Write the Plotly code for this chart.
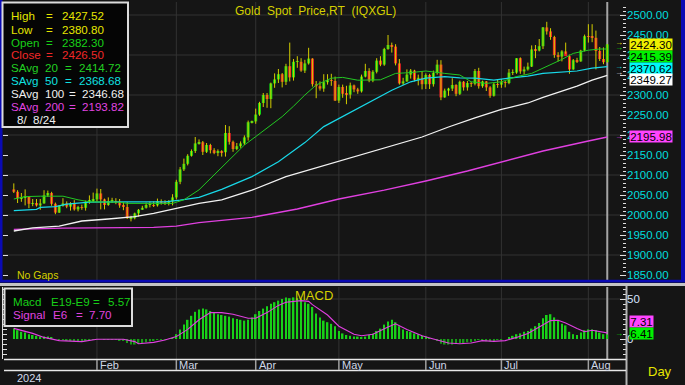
import plotly.graph_objects as go
import pandas as pd

W, H = 685, 385
def PX(x):
    return x / W
def PY(y):
    return 1 - y / H

FONT = "Arial, Liberation Sans, sans-serif"

# ---------------- data ----------------
dates = pd.bdate_range("2024-01-02", "2024-08-08")

opens = [2064, 2058, 2042, 2044, 2046, 2028, 2030, 2024, 2029, 2049,
         2055, 2028, 2006, 2023, 2029, 2021, 2029, 2014, 2020, 2018,
         2033, 2037, 2039, 2054, 2039, 2025, 2035, 2035, 2034, 2024,
         2020, 1992, 1992, 2004, 2013, 2018, 2025, 2025, 2024, 2035,
         2031, 2029, 2034, 2044, 2083, 2114, 2128, 2148, 2160, 2179,
         2182, 2158, 2175, 2162, 2155, 2160, 2157, 2205, 2183, 2165,
         2172, 2179, 2194, 2232, 2234, 2251, 2280, 2300, 2290, 2329,
         2339, 2352, 2333, 2372, 2344, 2383, 2383, 2361, 2379, 2391,
         2327, 2322, 2316, 2332, 2337, 2335, 2286, 2320, 2303, 2301,
         2324, 2314, 2309, 2346, 2360, 2336, 2358, 2386, 2376, 2415,
         2425, 2421, 2379, 2329, 2334, 2351, 2361, 2338, 2343, 2327,
         2350, 2327, 2355, 2376, 2294, 2311, 2316, 2325, 2303, 2333,
         2319, 2330, 2328, 2360, 2322, 2334, 2319, 2298, 2327, 2326,
         2332, 2330, 2356, 2356, 2392, 2359, 2364, 2371, 2414, 2411,
         2422, 2469, 2459, 2445, 2400, 2396, 2409, 2397, 2364, 2387,
         2384, 2411, 2447, 2446, 2443, 2410, 2390, 2382.30]
highs = [2079, 2062, 2055, 2064, 2047, 2040, 2040, 2040, 2062, 2061,
         2058, 2031, 2025, 2042, 2034, 2032, 2037, 2023, 2026, 2036,
         2049, 2056, 2066, 2065, 2041, 2044, 2043, 2042, 2040, 2032,
         2032, 1998, 2006, 2015, 2023, 2031, 2034, 2034, 2041, 2039,
         2037, 2037, 2052, 2088, 2120, 2141, 2152, 2164, 2195, 2189,
         2185, 2180, 2178, 2167, 2164, 2162, 2225, 2222, 2186, 2180,
         2184, 2199, 2236, 2236, 2266, 2283, 2305, 2305, 2331, 2354,
         2365, 2355, 2378, 2431, 2390, 2397, 2392, 2388, 2418, 2392,
         2335, 2334, 2352, 2352, 2353, 2346, 2326, 2326, 2323, 2331,
         2326, 2318, 2351, 2378, 2367, 2362, 2392, 2397, 2418, 2450,
         2431, 2427, 2390, 2343, 2364, 2365, 2363, 2351, 2360, 2354,
         2353, 2361, 2388, 2387, 2316, 2318, 2342, 2327, 2336, 2335,
         2335, 2333, 2365, 2368, 2336, 2335, 2322, 2330, 2340, 2340,
         2335, 2365, 2364, 2392, 2394, 2371, 2381, 2424, 2425, 2440,
         2470, 2483, 2467, 2448, 2407, 2412, 2431, 2401, 2390, 2393,
         2413, 2451, 2477, 2477, 2461, 2420, 2419, 2427.52]
lows = [2055, 2030, 2033, 2024, 2017, 2022, 2021, 2013, 2028, 2045,
        2023, 2002, 2005, 2021, 2017, 2011, 2011, 2009, 2013, 2011,
        2028, 2032, 2033, 2014, 2014, 2023, 2030, 2027, 2018, 2012,
        1990, 1984, 1989, 1996, 2013, 2016, 2019, 2020, 2021, 2026,
        2025, 2024, 2024, 2039, 2077, 2110, 2124, 2146, 2155, 2176,
        2150, 2155, 2154, 2152, 2147, 2146, 2146, 2176, 2158, 2162,
        2168, 2175, 2186, 2229, 2228, 2248, 2270, 2268, 2267, 2318,
        2330, 2319, 2325, 2334, 2336, 2368, 2358, 2355, 2376, 2321,
        2292, 2311, 2308, 2326, 2323, 2285, 2280, 2293, 2277, 2291,
        2307, 2303, 2306, 2344, 2332, 2332, 2354, 2372, 2373, 2413,
        2406, 2374, 2326, 2325, 2333, 2341, 2334, 2324, 2314, 2315,
        2315, 2321, 2351, 2287, 2293, 2298, 2310, 2297, 2300, 2311,
        2311, 2320, 2324, 2316, 2318, 2310, 2293, 2296, 2318, 2318,
        2319, 2327, 2350, 2353, 2353, 2351, 2361, 2370, 2392, 2409,
        2415, 2451, 2438, 2393, 2384, 2384, 2403, 2353, 2363, 2380,
        2383, 2409, 2431, 2432, 2364, 2385, 2377, 2380.80]
closes = [2058, 2042, 2044, 2046, 2028, 2030, 2024, 2029, 2049, 2055,
          2028, 2006, 2023, 2029, 2021, 2029, 2014, 2020, 2018, 2033,
          2037, 2039, 2054, 2039, 2025, 2035, 2035, 2034, 2024, 2020,
          1992, 1992, 2004, 2013, 2018, 2025, 2025, 2024, 2035, 2031,
          2029, 2034, 2044, 2083, 2114, 2128, 2148, 2160, 2179, 2182,
          2158, 2175, 2162, 2155, 2160, 2157, 2205, 2183, 2165, 2172,
          2179, 2194, 2232, 2234, 2251, 2280, 2300, 2290, 2329, 2339,
          2352, 2333, 2372, 2344, 2383, 2383, 2361, 2379, 2391, 2327,
          2322, 2316, 2332, 2337, 2335, 2286, 2320, 2303, 2301, 2324,
          2314, 2309, 2346, 2360, 2336, 2358, 2386, 2376, 2415, 2425,
          2421, 2379, 2329, 2334, 2351, 2361, 2338, 2343, 2327, 2350,
          2327, 2355, 2376, 2294, 2311, 2316, 2325, 2303, 2333, 2319,
          2330, 2328, 2360, 2322, 2334, 2319, 2298, 2327, 2326, 2332,
          2330, 2356, 2356, 2392, 2359, 2364, 2371, 2414, 2411, 2422,
          2469, 2459, 2445, 2400, 2396, 2409, 2397, 2364, 2387, 2384,
          2411, 2447, 2446, 2443, 2410, 2390, 2382, 2426.50]

# moving averages (bar index, value)
ma20_x = [0, 3, 7, 13, 17, 20, 28, 30, 42, 45, 49, 51, 54, 57, 61, 64, 68, 71, 74, 77,
          80, 84, 87, 91, 97, 101, 105, 109, 114, 118, 121, 125, 129, 133, 137, 141,
          145, 148, 152, 155, 157]
ma20_y = [2040, 2046, 2047, 2047, 2038, 2033, 2032, 2029, 2029, 2038, 2063, 2082, 2110,
          2137, 2175, 2196, 2225, 2246, 2272, 2300, 2325, 2342, 2344, 2337, 2338, 2354,
          2356, 2360, 2354, 2350, 2333, 2329, 2333, 2346, 2354, 2371, 2389, 2404, 2412,
          2415, 2415]
ma50_x = [0, 6, 7, 11, 14, 20, 30, 40, 44, 49, 55, 63, 70, 77, 82, 87, 92, 96, 100, 105,
          109, 114, 118, 122, 127, 131, 136, 140, 145, 149, 153, 157]
ma50_y = [2011, 2014, 2019, 2021, 2027, 2032, 2033, 2033, 2037, 2044, 2064, 2096, 2133,
          2181, 2221, 2246, 2271, 2290, 2312, 2333, 2342, 2346, 2343, 2342, 2337, 2342,
          2347, 2354, 2358, 2360, 2367, 2371]
ma100_x = [0, 5, 12, 18, 25, 32, 37, 43, 49, 55, 63, 72, 81, 90, 94, 100, 108, 115, 122,
           129, 136, 140, 145, 149, 153, 157]
ma100_y = [1960, 1968, 1972, 1985, 1990, 1996, 2004, 2017, 2029, 2038, 2062, 2096, 2121,
           2146, 2156, 2172, 2195, 2220, 2243, 2264, 2280, 2294, 2310, 2322, 2337, 2349]
ma200_x = [0, 13, 37, 43, 49, 56, 63, 75, 86, 98, 109, 120, 129, 140, 152, 157]
ma200_y = [1964, 1967, 1969, 1972, 1981, 1987, 1994, 2015, 2040, 2062, 2085, 2110, 2133,
           2160, 2185, 2195]

macd = [13, 11, 9, 8, 6, 5, 4, 3, 3, 3, 2,
        0, -1, -1, -2, -2, -3, -3, -3, -2, -1,
        -1, 0, 0, -1, -1, -1, -1, -2, -2,
        -5, -7, -7, -6, -5, -4,
        -3, -2, -1, -1, -1, 0, 1,
        6, 12, 18, 24, 29, 34, 37,
        38, 37, 35, 33, 31, 30, 29,
        28, 26, 25, 24, 23, 24, 27,
        31, 35, 38, 41,
        44, 46, 48, 50,
        52, 51, 52, 51, 50,
        46, 44,
        40, 32, 27, 23, 21, 19, 16,
        10, 7,
        5, 4, 3, 3, 2,
        3, 5, 7, 10, 13,
        18, 22, 24, 21,
        16, 12, 10,
        9, 7, 6, 4, 3, 1,
        0, -2, -6, -7, -7,
        -7, -6, -5, -6, -4, -4,
        -2, -1, -2, -3, -3, -2, -1, -1, 0,
        2, 4, 6, 7, 9, 10,
        13, 16, 20,
        26, 30, 31,
        27, 23, 19, 17,
        9, 6, 5,
        8, 11, 12, 12, 11,
        8, 6, 5.57]
signal_x = [0, 2, 5, 8, 10, 12, 18, 22, 29, 32, 33, 37, 40, 43, 46, 49, 52, 55, 58, 62,
            64, 67, 70, 72, 76, 78, 79, 83, 86, 90, 92, 95, 99, 101, 104, 108, 111, 115,
            118, 121, 124, 127, 130, 133, 136, 139, 142, 144, 146, 149, 151, 153, 156, 157]
signal_y = [13.3, 11, 7, 2, 0, -2, -3.3, -0.4, -0.4, -3.3, -6, -4.2, -1.2, 3, 12, 24, 33,
            33, 31, 26, 26, 33, 42, 46, 48, 47, 43, 30, 16, 6, 4, 6, 15, 19, 12, 4, 0, -5,
            -6, -5, -2, -3, -2, 2, 7, 15, 23, 23.5, 20, 13, 9, 11, 9, 7.7]

legend_labels = ["High", "Low", "Open", "Close", "SAvg\u00a0\u00a020", "SAvg\u00a0\u00a050",
                 "SAvg\u00a0\u00a0100", "SAvg\u00a0\u00a0200"]
legend_values = ["2427.52", "2380.80", "2382.30", "2426.50", "2414.72", "2368.68",
                 "2346.68", "2193.82"]
legend_date = "8/\u00a0\u00a08/24"
macd_parts = [["Macd", "E19-E9", "=", "5.57"], ["Signal", "E6", "=", "7.70"]]
price_tags = ["2424.30", "2415.39", "2370.62", "2349.27", "2195.98"]
price_tag_vals = [2427.5, 2396.5, 2367.5, 2338.5, 2195.98]
macd_tags = ["7.31", "6.41"]
macd_tag_vals = [21.3, 7.2]
title_text = "Gold\u00a0\u00a0Spot\u00a0\u00a0Price,RT\u00a0\u00a0(IQXGL)"
year_label = "2024"

# ---------------- derived ----------------
n = len(dates)
idx = list(range(n))
month_idx = [i for i in range(1, n) if dates[i].month != dates[i - 1].month]
month_names = [dates[i].strftime("%b") for i in month_idx]

XR = [(3 - 13.8) / 3.78, (3 - 13.8) / 3.78 + 623 / 3.78]
YR = [1837.5, 2532.5]
Y2R = [-25, 65]

GREEN = "#14d814"
RED = "#f02424"
WICK = "#d2cc00"

fig = go.Figure()

wx, wy = [], []
for i in idx:
    wx += [i, i, None]
    wy += [lows[i], highs[i], None]
fig.add_trace(go.Scatter(x=wx, y=wy, mode="lines", line=dict(color=WICK, width=1),
                         hoverinfo="skip"))

up = [i for i in idx if closes[i] >= opens[i]]
dn = [i for i in idx if closes[i] < opens[i]]
fig.add_trace(go.Bar(x=up, base=[opens[i] for i in up],
                     y=[max(closes[i] - opens[i], 0.8) for i in up],
                     width=0.78, marker=dict(color=GREEN, line=dict(width=0))))
fig.add_trace(go.Bar(x=dn, base=[closes[i] for i in dn],
                     y=[opens[i] - closes[i] for i in dn],
                     width=0.78, marker=dict(color=RED, line=dict(width=0))))

fig.add_trace(go.Scatter(x=ma200_x, y=ma200_y, mode="lines", line=dict(color="#e040e0", width=1.3)))
fig.add_trace(go.Scatter(x=ma100_x, y=ma100_y, mode="lines", line=dict(color="#f2f2f2", width=1.3)))
fig.add_trace(go.Scatter(x=ma50_x, y=ma50_y, mode="lines", line=dict(color="#18d8e8", width=1.2)))
fig.add_trace(go.Scatter(x=ma20_x, y=ma20_y, mode="lines", line=dict(color="#22c822", width=1)))

# MACD panel
fig.add_trace(go.Bar(x=idx, y=macd, xaxis="x2", yaxis="y2", width=0.42,
                     marker=dict(color=["#18d018" if v >= 0 else "#169a16" for v in macd],
                                 line=dict(width=0))))
fig.add_trace(go.Scatter(x=signal_x, y=signal_y, xaxis="x2", yaxis="y2", mode="lines",
                         line=dict(color="#e040e0", width=1.1)))

# helper traces so overlay axes render
fig.add_trace(go.Scatter(x=[0], y=[2000], xaxis="x", yaxis="y3", mode="markers",
                         marker=dict(opacity=0), hoverinfo="skip"))
fig.add_trace(go.Scatter(x=[0], y=[0], xaxis="x2", yaxis="y4", mode="markers",
                         marker=dict(opacity=0), hoverinfo="skip"))

shapes = []
# gridlines
for v in range(1900, 2501, 100):
    shapes.append(dict(type="line", xref="x domain", x0=0, x1=1, yref="y", y0=v, y1=v,
                       line=dict(color="#323232", width=1), layer="below"))
shapes.append(dict(type="line", xref="x2 domain", x0=0, x1=1, yref="y2", y0=50, y1=50,
                   line=dict(color="#323232", width=1), layer="below"))
for m in month_idx:
    for yr in ["y domain", "y2 domain"]:
        shapes.append(dict(type="line", xref="x", x0=m, x1=m, yref=yr, y0=0, y1=1,
                           line=dict(color="#323232", width=1), layer="below"))
# cursor line at last bar
for yr in ["y domain", "y2 domain"]:
    shapes.append(dict(type="line", xref="x", x0=n - 1, x1=n - 1, yref=yr, y0=0, y1=1,
                       line=dict(color="#a4a4a4", width=2), layer="below"))

# frame
BLUE = "#0a0ab4"
shapes.append(dict(type="rect", xref="paper", yref="paper", x0=PX(0), x1=PX(2.5),
                   y0=PY(282), y1=PY(0), fillcolor=BLUE, line=dict(width=0), layer="above"))
shapes.append(dict(type="rect", xref="paper", yref="paper", x0=PX(681), x1=PX(685),
                   y0=PY(282), y1=PY(0), fillcolor=BLUE, line=dict(width=0), layer="above"))
shapes.append(dict(type="rect", xref="paper", yref="paper", x0=0, x1=1,
                   y0=PY(282.5), y1=PY(279.8), fillcolor=BLUE, line=dict(width=0), layer="above"))
shapes.append(dict(type="rect", xref="paper", yref="paper", x0=0, x1=1,
                   y0=PY(286), y1=PY(283), fillcolor="#c4c4c4", line=dict(width=0), layer="above"))
# right axis line for lower area
shapes.append(dict(type="line", xref="paper", yref="paper", x0=PX(626.5), x1=PX(626.5),
                   y0=0, y1=PY(286), line=dict(color="#b4b4b4", width=2), layer="above"))
# date strip
for yy in [359.5, 370.5]:
    shapes.append(dict(type="line", xref="paper", yref="paper", x0=PX(4), x1=PX(626),
                       y0=PY(yy), y1=PY(yy), line=dict(color="#e8e8e8", width=1.5), layer="above"))
for m in month_idx:
    shapes.append(dict(type="line", xref="x", x0=m, x1=m, yref="paper", y0=PY(370), y1=PY(360),
                       line=dict(color="#a0a0a0", width=1.5), layer="above"))
# legend boxes
shapes.append(dict(type="rect", xref="paper", yref="paper", x0=PX(2.5), x1=PX(128),
                   y0=PY(127), y1=PY(2.5), fillcolor="#050505",
                   line=dict(color="#dcdcdc", width=2), layer="above"))
shapes.append(dict(type="rect", xref="paper", yref="paper", x0=PX(4.5), x1=PX(132),
                   y0=PY(326), y1=PY(288.5), fillcolor="#050505",
                   line=dict(color="#dcdcdc", width=2), layer="above"))

ann = []
def text(x, y, s, color, size=12, xanchor="left", **kw):
    d = dict(xref="paper", yref="paper", x=PX(x), y=PY(y), text=s, showarrow=False,
             xanchor=xanchor, yanchor="middle", font=dict(family=FONT, size=size, color=color))
    d.update(kw)
    ann.append(d)

leg_colors = ["#e6e600", "#e6e600", "#18d018", "#f02828", "#22d022", "#10e0e0",
              "#f0f0f0", "#e044e0"]
leg_y = [15.7, 29, 42.3, 54.3, 67.7, 80.3, 93.7, 106.7]
eq_x = [49.5, 49.5, 49.5, 50, 68, 68.5, 72, 72]
val_x = [60, 60, 60, 60, 76.5, 77, 80, 80]
for k in range(len(legend_labels)):
    text(9, leg_y[k], legend_labels[k], leg_colors[k], size=11.6)
    text(eq_x[k], leg_y[k], "=", leg_colors[k], size=11.6, xanchor="center")
    text(val_x[k], leg_y[k], legend_values[k], leg_colors[k], size=11.6)
text(15, 119.3, legend_date, "#f0f0f0", size=11.6)

macd_x = [[11, 49, 96.5, 106], [11, 50.5, 79, 87]]
macd_y = [301.7, 314]
macd_c = ["#18d018", "#e044e0"]
for r in range(2):
    for part, xx in zip(macd_parts[r], macd_x[r]):
        text(xx, macd_y[r], part, macd_c[r], size=11.6,
             xanchor="center" if part == "=" else "left")

text(315, 10.7, title_text, "#d4d000", xanchor="center")
text(314, 295, "MACD", "#d4d000", size=13, xanchor="center")
text(15, 275, "No Gaps", "#d4d000", size=10.5)
text(660, 371, "Day", "#e6e600", size=13, xanchor="center")
text(15, 377.5, year_label, "#d0d8e8", size=11)
for m, name in zip(month_idx, month_names):
    ann.append(dict(xref="x", yref="paper", x=m, y=PY(365), text=name, showarrow=False,
                    xanchor="left", yanchor="middle", xshift=1,
                    font=dict(family=FONT, size=11, color="#d0d8e8")))

tag_bg = ["#f0f000", "#00f000", "#00f8f8", "#ffffff", "#ff44ff"]
for s, v, bg in zip(price_tags, price_tag_vals, tag_bg):
    ann.append(dict(xref="paper", yref="y", x=PX(628.5), y=v, text=s, showarrow=False,
                    xanchor="left", yanchor="middle", bgcolor=bg, width=42, height=11,
                    borderpad=0, font=dict(family=FONT, size=11.5, color="#000000")))
for s, v, bg in zip(macd_tags, macd_tag_vals, ["#ff44ff", "#00f000"]):
    ann.append(dict(xref="paper", yref="y2", x=PX(629), y=v, text=s, showarrow=False,
                    xanchor="left", yanchor="middle", bgcolor=bg, width=23, height=11,
                    borderpad=0, font=dict(family=FONT, size=11.5, color="#000000")))
# pointer arrows
for yy, c in [(42.7, "#f0f000"), (47.3, "#00e000"), (66.5, "#10e0e0"), (73, "#f0f0f0"),
              (136, "#ff44ff"), (333.5, "#00e000")]:
    text(618.5, yy, "→", c, size=8, xanchor="center")

fig.update_layout(
    width=W, height=H, margin=dict(l=0, r=0, t=0, b=0),
    paper_bgcolor="#151515", plot_bgcolor="#151515",
    showlegend=False, barmode="overlay", hovermode=False,
    xaxis=dict(domain=[PX(3), PX(626)], range=XR, showgrid=False, zeroline=False,
               showticklabels=False, ticks="", anchor="y"),
    yaxis=dict(domain=[PY(280), PY(2)], range=YR, side="right", anchor="x",
               tickmode="linear", tick0=1850, dtick=50, tickformat=".2f",
               tickfont=dict(family=FONT, size=11.5, color="#00dede"),
               ticks="inside", ticklen=6, tickcolor="#e0e0e0", tickwidth=1,
               minor=dict(ticks="inside", dtick=10, ticklen=3, tickcolor="#e0e0e0"),
               showgrid=False, zeroline=False, showline=False),
    yaxis3=dict(overlaying="y", side="left", range=YR, anchor="x", tickmode="linear",
                tick0=1850, dtick=50, ticks="inside", ticklen=5, tickcolor="#e0e0e0",
                showticklabels=False, showgrid=False, zeroline=False, showline=False),
    xaxis2=dict(domain=[PX(3), PX(626)], range=XR, showgrid=False, zeroline=False,
                showticklabels=False, ticks="", anchor="y2"),
    yaxis2=dict(domain=[PY(359), PY(287)], range=Y2R, side="right", anchor="x2",
                tickmode="linear", tick0=0, dtick=50,
                tickfont=dict(family=FONT, size=11.5, color="#d8e4ff"),
                ticks="inside", ticklen=6, tickcolor="#e0e0e0",
                minor=dict(ticks="inside", dtick=6.25, ticklen=3, tickcolor="#e0e0e0"),
                showgrid=False, zeroline=False, showline=False),
    yaxis4=dict(overlaying="y2", side="left", range=Y2R, anchor="x2", tickmode="linear",
                tick0=0, dtick=6.25, ticks="inside", ticklen=4, tickcolor="#e0e0e0",
                showticklabels=False, showgrid=False, zeroline=False, showline=True,
                linecolor="#e0e0e0", linewidth=1),
    shapes=shapes, annotations=ann,
)

fig.write_html("out.html")
